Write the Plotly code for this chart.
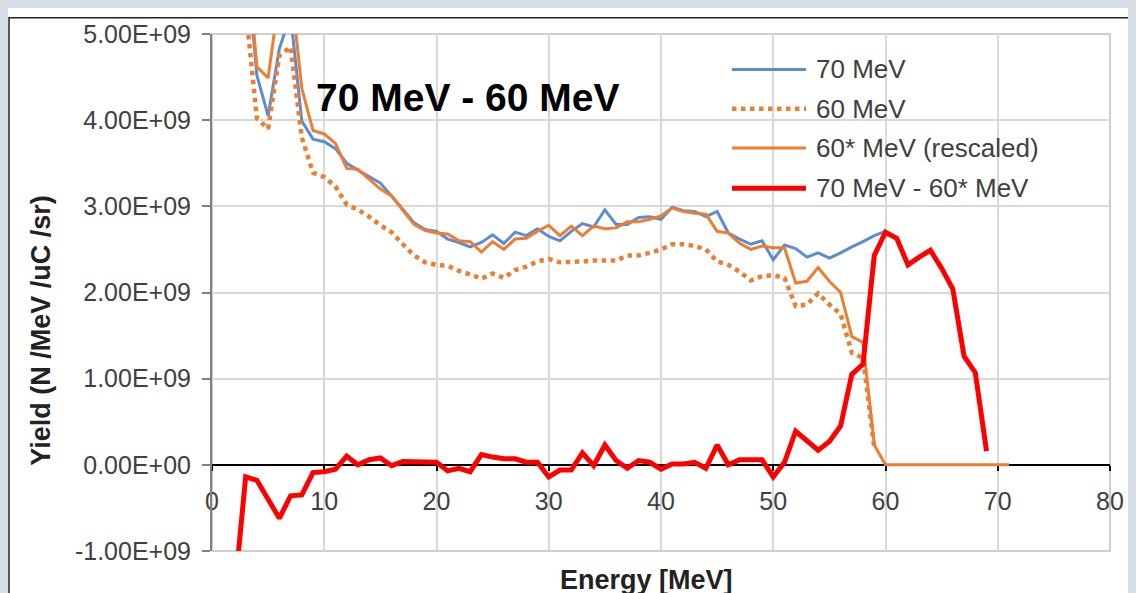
import plotly.graph_objects as go

# ---------------- data (Yield in units of 1e9 N/MeV/uC/sr) ----------------
energy_main = list(range(3, 61))  # 3..60 MeV

yield_70 = [5.96, 4.52, 4.05, 4.83, 5.22, 3.99, 3.78, 3.75, 3.67, 3.50,
            3.42, 3.35, 3.27, 3.12, 2.96, 2.81, 2.73, 2.71, 2.62, 2.58,
            2.53, 2.58, 2.67, 2.57, 2.70, 2.66, 2.74, 2.65, 2.60, 2.71,
            2.80, 2.76, 2.96, 2.79, 2.79, 2.87, 2.88, 2.85, 2.99, 2.95,
            2.94, 2.88, 2.94, 2.69, 2.62, 2.56, 2.60, 2.38, 2.55, 2.51,
            2.41, 2.46, 2.40, 2.46, 2.53, 2.59, 2.66, 2.71]

energy_60 = list(range(3, 60))  # 3..59 MeV
yield_60 = [5.30, 4.02, 3.90, 4.75, 4.85, 3.80, 3.39, 3.34, 3.23, 3.02,
            2.96, 2.88, 2.78, 2.70, 2.56, 2.43, 2.35, 2.32, 2.31, 2.25,
            2.21, 2.16, 2.22, 2.17, 2.26, 2.30, 2.36, 2.39, 2.35, 2.35,
            2.36, 2.37, 2.37, 2.37, 2.43, 2.43, 2.46, 2.50, 2.56, 2.56,
            2.54, 2.50, 2.36, 2.32, 2.24, 2.14, 2.19, 2.20, 2.17, 1.84,
            1.86, 1.99, 1.86, 1.75, 1.30, 1.24, 0.20]

energy_60r = list(range(3, 72))  # 3..71 MeV
yield_60r = [6.10, 4.62, 4.49, 5.45, 5.58, 4.37, 3.88, 3.84, 3.73, 3.44,
             3.43, 3.31, 3.20, 3.12, 2.96, 2.79, 2.72, 2.69, 2.68, 2.60,
             2.59, 2.47, 2.59, 2.50, 2.62, 2.63, 2.71, 2.78, 2.66, 2.77,
             2.66, 2.77, 2.74, 2.75, 2.82, 2.82, 2.85, 2.89, 2.98, 2.94,
             2.92, 2.91, 2.71, 2.69, 2.57, 2.50, 2.54, 2.52, 2.52, 2.11,
             2.13, 2.29, 2.13, 2.00, 1.49, 1.42, 0.23, 0.00, 0.00, 0.00,
             0.00, 0.00, 0.00, 0.00, 0.00, 0.00, 0.00, 0.00, 0.00]

energy_diff = list(range(2, 70))  # 2..69 MeV
yield_diff = [-1.50, -0.14, -0.18, -0.40, -0.62, -0.36, -0.35, -0.09, -0.08, -0.05,
              0.10, 0.00, 0.06, 0.08, -0.01, 0.04, 0.04, 0.03, 0.03, -0.07,
              -0.04, -0.08, 0.12, 0.09, 0.07, 0.07, 0.03, 0.03, -0.14, -0.06,
              -0.06, 0.14, -0.01, 0.23, 0.05, -0.04, 0.05, 0.03, -0.05, 0.01,
              0.01, 0.03, -0.04, 0.23, 0.00, 0.06, 0.06, 0.06, -0.14, 0.03,
              0.39, 0.28, 0.17, 0.27, 0.45, 1.05, 1.17, 2.43, 2.70, 2.63,
              2.32, 2.41, 2.49, 2.28, 2.04, 1.26, 1.07, 0.16]

x_ticks = [0, 10, 20, 30, 40, 50, 60, 70, 80]
y_ticks = [-1e9, 0, 1e9, 2e9, 3e9, 4e9, 5e9]
y_tick_labels = ["-1.00E+09", "0.00E+00", "1.00E+09", "2.00E+09",
                 "3.00E+09", "4.00E+09", "5.00E+09"]

series_names = ["70 MeV", "60 MeV", "60* MeV (rescaled)", "70 MeV - 60* MeV"]


def scale(v):
    return [a * 1e9 for a in v]


FONT = "Liberation Sans, Arial, sans-serif"
styles = [
    dict(color="#5B8ED0", width=3, dash="solid"),
    dict(color="#ED7D31", width=4.5, dash="dot"),
    dict(color="#ED7D31", width=3, dash="solid"),
    dict(color="#FF0000", width=5, dash="solid"),
]

fig = go.Figure()
for xs, ys, name, st in zip([energy_main, energy_60, energy_60r, energy_diff],
                            [yield_70, yield_60, yield_60r, yield_diff],
                            series_names, styles):
    fig.add_trace(go.Scatter(x=xs, y=scale(ys), mode="lines", name=name,
                             line=dict(color=st["color"], width=st["width"],
                                       dash=st["dash"])))

# page pixel -> paper coordinate helpers (plot area: x 212..1110, y 25..551)
def px(p):
    return (p - 212) / 898


def py(p):
    return (551 - p) / 526


shapes = [
    # white chart box with dark border
    dict(type="rect", xref="paper", yref="paper",
         x0=px(9), x1=px(1160), y0=py(620), y1=py(8.5),
         line=dict(color="#222222", width=1.5), fillcolor="white",
         layer="below"),
    # plot area border
    dict(type="rect", xref="paper", yref="paper",
         x0=0, x1=1, y0=0, y1=1,
         line=dict(color="#bfbfbf", width=1.5), layer="below"),
]
annotations = [
    dict(text="<b>70 MeV - 60 MeV</b>", xref="paper", yref="paper",
         x=px(314), y=py(90), xanchor="left", yanchor="middle",
         showarrow=False, font=dict(size=39, color="black", family=FONT)),
    dict(text="<b>Energy [MeV]</b>", xref="paper", yref="paper",
         x=px(646), y=py(580), xanchor="center", yanchor="middle",
         showarrow=False, font=dict(size=27, color="#222222", family=FONT)),
    dict(text="<b>Yield (N /MeV /uC /sr)</b>", xref="paper", yref="paper",
         x=px(41), y=py(327), xanchor="center", yanchor="middle",
         textangle=-90, showarrow=False,
         font=dict(size=27, color="#222222", family=FONT)),
]

# custom legend (long line samples like the original)
legend_rows = [61, 101, 141, 182]
for name, st, row in zip(series_names, styles, legend_rows):
    shapes.append(dict(type="line", xref="paper", yref="paper",
                       x0=px(732), x1=px(806), y0=py(row), y1=py(row),
                       line=dict(color=st["color"], width=st["width"],
                                 dash=st["dash"])))
    annotations.append(dict(text=name, xref="paper", yref="paper",
                            x=px(814), y=py(row), xanchor="left",
                            yanchor="middle", showarrow=False,
                            font=dict(size=26, color="#404040", family=FONT)))

fig.update_layout(
    width=1128, height=585,
    margin=dict(l=204, r=26, t=17, b=42),
    paper_bgcolor="white",
    plot_bgcolor="white",
    font=dict(family=FONT, color="#404040"),
    showlegend=False,
    xaxis=dict(range=[0, 80], tickvals=x_ticks, showgrid=True,
               gridcolor="#d9d9d9", gridwidth=1.5,
               anchor="free", position=1/6, layer="below traces",
               showline=True, linecolor="black", linewidth=1.5,
               ticks="outside", ticklen=5, tickcolor="black", tickwidth=1.5,
               ticklabelstandoff=9,
               tickfont=dict(size=25, color="#404040"), zeroline=False),
    yaxis=dict(range=[-1e9, 5e9], tickvals=y_ticks, ticktext=y_tick_labels,
               showgrid=True, gridcolor="#d9d9d9", gridwidth=1.5,
               showline=True, linecolor="#808080", linewidth=2,
               ticks="outside", ticklen=8, tickcolor="#808080", tickwidth=1.5,
               ticklabelstandoff=6,
               tickfont=dict(size=25, color="#404040"), zeroline=False),
    shapes=shapes,
    annotations=annotations,
)

fig.write_html("out.html",
               post_script="document.body.style.background='#d9dee6';")
